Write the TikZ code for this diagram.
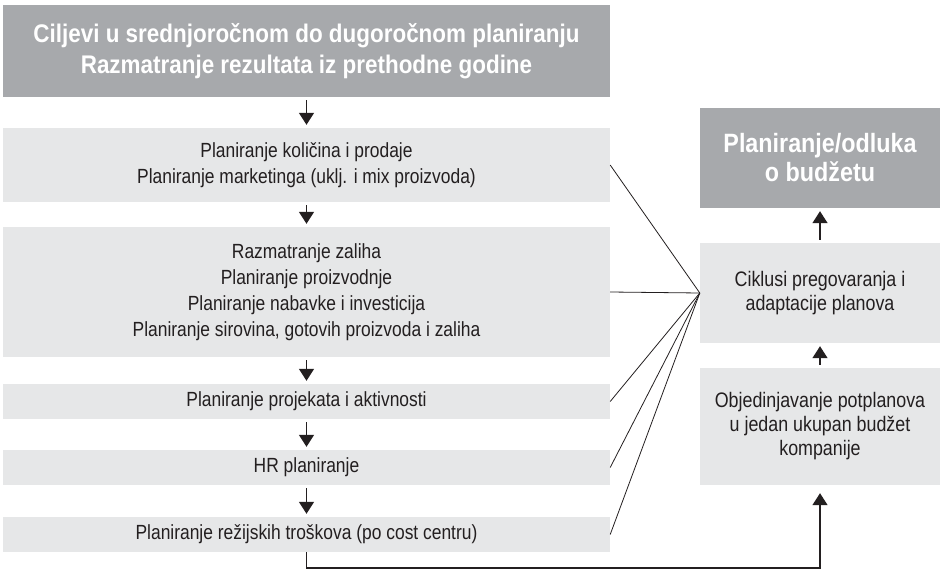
\documentclass[tikz,border=0pt]{standalone}
\usepackage{fontspec}
\setmainfont{Liberation Sans}[FakeStretch=0.85,BoldFeatures={FakeStretch=0.88}]
\usetikzlibrary{arrows.meta}
\definecolor{darkbox}{HTML}{A7A9AC}
\definecolor{lightbox}{HTML}{E6E7E8}
\definecolor{txt}{HTML}{231F20}
\begin{document}
\begin{tikzpicture}[x=1pt,y=-1pt,
  darkstyle/.style={fill=darkbox,draw=none,text=white,font=\fontsize{25.5}{31}\selectfont\bfseries,align=center,inner sep=0pt},
  lightstyle/.style={fill=lightbox,draw=none,text=txt,font=\fontsize{20.5}{26}\selectfont,align=center,inner sep=0pt},
  flow/.style={line width=1.5pt,draw=txt,-{Triangle[width=15pt,length=12pt]},shorten <=3pt,shorten >=3pt},
  link/.style={line width=0.8pt,draw=txt}]
\useasboundingbox (0,0) rectangle (942,575);
% left column
\node[darkstyle,minimum width=607pt,minimum height=92pt] (top) at (306.5,51) {Ciljevi u srednjoročnom do dugoročnom planiranju\\Razmatranje rezultata iz prethodne godine};
\node[lightstyle,minimum width=607pt,minimum height=74pt] (b2) at (306.5,165) {Planiranje količina i prodaje\\Planiranje marketinga (uklj. i mix proizvoda)};
\node[lightstyle,minimum width=607pt,minimum height=130pt] (b3) at (306.5,292) {Razmatranje zaliha\\Planiranje proizvodnje\\Planiranje nabavke i investicija\\Planiranje sirovina, gotovih proizvoda i zaliha};
\node[lightstyle,minimum width=607pt,minimum height=35pt] (b4) at (306.5,401.5) {Planiranje projekata i aktivnosti};
\node[lightstyle,minimum width=607pt,minimum height=35pt] (b5) at (306.5,467.5) {HR planiranje};
\node[lightstyle,minimum width=607pt,minimum height=35pt] (b6) at (306.5,534.5) {Planiranje režijskih troškova (po cost centru)};
% right column
\node[darkstyle,font=\fontsize{26.5}{29}\selectfont\bfseries,minimum width=240pt,minimum height=100pt] (bud) at (820,158) {Planiranje/odluka\\o budžetu};
\node[lightstyle,font=\fontsize{21}{24}\selectfont,minimum width=240pt,minimum height=100pt] (cik) at (820,293) {Ciklusi pregovaranja i\\adaptacije planova};
\node[lightstyle,font=\fontsize{21}{24}\selectfont,minimum width=240pt,minimum height=117pt] (obj) at (820,426.5) {Objedinjavanje potplanova\\u jedan ukupan budžet\\kompanije};
% flow arrows
\draw[flow] (top) -- (b2);
\draw[flow] (b2) -- (b3);
\draw[flow] (b3) -- (b4);
\draw[flow] (b4) -- (b5);
\draw[flow] (b5) -- (b6);
\draw[flow] (cik) -- (bud);
\draw[flow] (obj) -- (cik);
\coordinate (low) at (306.5,568);
\draw[flow,shorten <=0pt,shorten >=8pt] (b6.south) -- (low) -| (obj.south);
% links
\draw[link] (b2.east) -- (cik.west);
\draw[link] (b3.east) -- (cik.west);
\draw[link] (b4.east) -- (cik.west);
\draw[link] (b5.east) -- (cik.west);
\draw[link] (b6.east) -- (cik.west);
\end{tikzpicture}
\end{document}
